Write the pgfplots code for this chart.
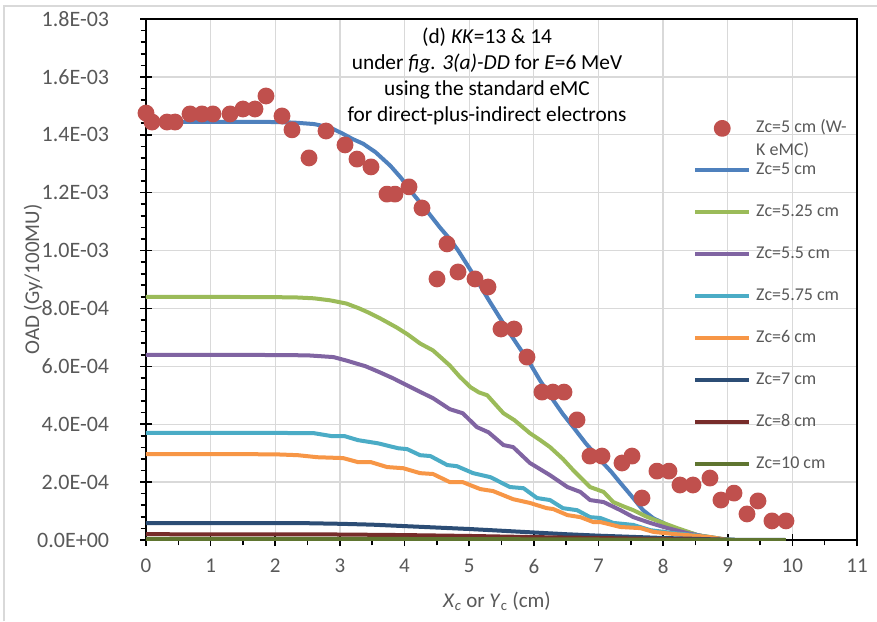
\documentclass[border=0pt]{standalone}
\usepackage{pgfplots}
\pgfplotsset{compat=1.18}
\usepackage{fontspec}
\setmainfont{Carlito}
\definecolor{gridgray}{HTML}{D9D9D9}
\definecolor{txtgray}{HTML}{595959}
\definecolor{cRed}{HTML}{C0504D}
\definecolor{cBlue}{HTML}{4F81BD}
\definecolor{cGreen}{HTML}{9BBB59}
\definecolor{cPurple}{HTML}{8064A2}
\definecolor{cCyan}{HTML}{4BACC6}
\definecolor{cOrange}{HTML}{F79646}
\definecolor{cNavy}{HTML}{2C4D75}
\definecolor{cMaroon}{HTML}{772C2A}
\definecolor{cOlive}{HTML}{5F7530}
\pgfplotsset{
  dotlegend/.style={legend image code/.code={\path[draw=none,fill=none] (0pt,0pt) -- (40.5pt,0pt); \fill[cRed] (20.25pt,0pt) circle[radius=4.8pt];}},
  linelegend/.style={legend image code/.code={\draw[##1] (0pt,0pt) -- (40.5pt,0pt);}},
}

\pgfplotstableread{
x y
0 1.475e-3
0.093 1.444e-3
0.325 1.444e-3
0.449 1.444e-3
0.681 1.472e-3
0.866 1.472e-3
1.036 1.472e-3
1.300 1.472e-3
1.500 1.489e-3
1.686 1.489e-3
1.856 1.534e-3
2.104 1.465e-3
2.259 1.417e-3
2.522 1.320e-3
2.785 1.413e-3
3.079 1.365e-3
3.264 1.316e-3
3.481 1.289e-3
3.728 1.195e-3
3.852 1.195e-3
4.069 1.220e-3
4.270 1.147e-3
4.502 0.902e-3
4.657 1.023e-3
4.827 0.926e-3
5.090 0.902e-3
5.291 0.874e-3
5.492 0.729e-3
5.693 0.729e-3
5.894 0.632e-3
6.126 0.511e-3
6.296 0.511e-3
6.467 0.511e-3
6.668 0.415e-3
6.869 0.290e-3
7.054 0.290e-3
7.364 0.266e-3
7.519 0.290e-3
7.673 0.145e-3
7.905 0.238e-3
8.091 0.238e-3
8.261 0.190e-3
8.462 0.190e-3
8.725 0.214e-3
8.895 0.138e-3
9.097 0.162e-3
9.298 0.090e-3
9.468 0.135e-3
9.684 0.066e-3
9.901 0.066e-3
}\wkdata

\pgfplotstableread{
x y
0 1.445e-3
0.5 1.445e-3
1 1.445e-3
1.5 1.445e-3
2 1.444e-3
2.3 1.442e-3
2.6 1.437e-3
2.85 1.425e-3
3.05 1.403e-3
3.2 1.385e-3
3.36 1.369e-3
3.55 1.340e-3
3.78 1.293e-3
3.95 1.250e-3
4.09 1.207e-3
4.3 1.150e-3
4.55 1.079e-3
4.7 1.040e-3
4.83 1.000e-3
5.0 0.940e-3
5.12 0.897e-3
5.3 0.830e-3
5.53 0.748e-3
5.7 0.690e-3
5.94 0.610e-3
6.1 0.550e-3
6.3 0.483e-3
6.45 0.435e-3
6.61 0.390e-3
6.8 0.335e-3
7.03 0.276e-3
7.2 0.235e-3
7.34 0.197e-3
7.5 0.155e-3
7.69 0.103e-3
7.85 0.075e-3
8.07 0.052e-3
8.2 0.040e-3
8.37 0.028e-3
8.55 0.016e-3
8.73 0.008e-3
8.9 0.003e-3
9.1 0
9.9 0
}\zfive

\pgfplotstableread{
x y
0 0.840e-3
1 0.840e-3
2 0.839e-3
2.33 0.838e-3
2.6 0.835e-3
2.85 0.828e-3
3.1 0.817e-3
3.3 0.800e-3
3.45 0.785e-3
3.62 0.766e-3
3.88 0.734e-3
4.05 0.710e-3
4.24 0.679e-3
4.44 0.655e-3
4.7 0.603e-3
4.85 0.565e-3
5.02 0.528e-3
5.15 0.510e-3
5.28 0.500e-3
5.4 0.470e-3
5.53 0.438e-3
5.7 0.414e-3
5.94 0.369e-3
6.1 0.345e-3
6.25 0.321e-3
6.45 0.280e-3
6.61 0.241e-3
6.75 0.210e-3
6.87 0.183e-3
7.08 0.166e-3
7.23 0.131e-3
7.4 0.115e-3
7.54 0.103e-3
7.75 0.080e-3
7.96 0.062e-3
8.22 0.041e-3
8.53 0.017e-3
8.73 0.010e-3
8.9 0.004e-3
9.1 0
9.9 0
}\zfivetwofive

\pgfplotstableread{
x y
0 0.640e-3
1 0.640e-3
2 0.639e-3
2.5 0.638e-3
2.9 0.632e-3
3.1 0.620e-3
3.4 0.600e-3
3.62 0.579e-3
3.82 0.559e-3
4.13 0.524e-3
4.44 0.490e-3
4.7 0.452e-3
4.9 0.438e-3
5.12 0.390e-3
5.3 0.372e-3
5.53 0.328e-3
5.68 0.321e-3
5.94 0.266e-3
6.25 0.224e-3
6.52 0.183e-3
6.72 0.166e-3
6.87 0.138e-3
7.08 0.131e-3
7.34 0.103e-3
7.54 0.079e-3
7.8 0.059e-3
8.07 0.041e-3
8.37 0.024e-3
8.68 0.010e-3
9.0 0
9.9 0
}\zfivefive

\pgfplotstableread{
x y
0 0.370e-3
1 0.370e-3
2 0.370e-3
2.6 0.369e-3
2.87 0.359e-3
3.07 0.359e-3
3.28 0.345e-3
3.59 0.334e-3
3.9 0.317e-3
4.04 0.314e-3
4.24 0.293e-3
4.4 0.290e-3
4.66 0.259e-3
4.81 0.255e-3
5.06 0.231e-3
5.33 0.217e-3
5.63 0.183e-3
5.84 0.179e-3
6.05 0.145e-3
6.25 0.138e-3
6.45 0.110e-3
6.67 0.103e-3
6.87 0.079e-3
7.03 0.076e-3
7.23 0.059e-3
7.54 0.052e-3
7.8 0.034e-3
8.15 0.024e-3
8.47 0.017e-3
8.73 0.010e-3
9.0 0
9.9 0
}\zfiveseven

\pgfplotstableread{
x y
0 0.297e-3
1 0.297e-3
2 0.296e-3
2.35 0.293e-3
2.65 0.286e-3
3.05 0.283e-3
3.28 0.269e-3
3.48 0.269e-3
3.73 0.252e-3
3.98 0.248e-3
4.24 0.231e-3
4.44 0.228e-3
4.7 0.200e-3
4.9 0.200e-3
5.17 0.176e-3
5.37 0.169e-3
5.68 0.141e-3
5.94 0.128e-3
6.2 0.110e-3
6.3 0.107e-3
6.52 0.086e-3
6.72 0.079e-3
6.92 0.062e-3
7.03 0.062e-3
7.34 0.045e-3
7.65 0.041e-3
7.85 0.028e-3
8.15 0.021e-3
8.53 0.014e-3
8.73 0.010e-3
9.0 0
9.9 0
}\zsix

\pgfplotstableread{
x y
0 0.058e-3
2.5 0.058e-3
3 0.056e-3
3.5 0.053e-3
4 0.048e-3
4.5 0.043e-3
5 0.038e-3
5.5 0.032e-3
6 0.026e-3
6.5 0.020e-3
7 0.015e-3
7.5 0.011e-3
8 0.007e-3
8.5 0.004e-3
9 0.001e-3
9.9 0
}\zseven

\pgfplotstableread{
x y
0 0.020e-3
3 0.019e-3
4 0.017e-3
5 0.014e-3
6 0.010e-3
7 0.007e-3
8 0.003e-3
9 0
9.9 0
}\zeight

\pgfplotstableread{
x y
0 0.004e-3
4 0.0035e-3
6 0.0025e-3
8 0.001e-3
9 0
9.9 0
}\zten

\begin{document}
\begin{tikzpicture}
\path[use as bounding box] (-109.5pt,-60.75pt) rectangle (548.25pt,405pt);
\fill[white] (-109.5pt,-60.75pt) rectangle (548.25pt,405pt);
\draw[gridgray, line width=1pt] (-106.5pt,-61pt) -- (-106.5pt,400.5pt) -- (549pt,400.5pt);
\begin{axis}[
  at={(0pt,0pt)}, anchor=south west,
  scale only axis, width=533.25pt, height=390.75pt,
  xmin=0, xmax=11, ymin=0, ymax=0.0018,
  xtick={0,1,2,3,4,5,6,7,8,9,10,11},
  minor x tick num=1,
  ytick={0,0.0002,0.0004,0.0006,0.0008,0.001,0.0012,0.0014,0.0016,0.0018},
  yticklabels={0.0E+00,2.0E-04,4.0E-04,6.0E-04,8.0E-04,1.0E-03,1.2E-03,1.4E-03,1.6E-03,1.8E-03},
  minor y tick num=4,
  scaled y ticks=false,
  xtick pos=bottom, ytick pos=left,
  /pgf/number format/assume math mode=true,
  grid=major,
  major grid style={gridgray, line width=1pt},
  axis line style={black, line width=1.4pt},
  tick style={black, line width=1.2pt},
  tick align=center,
  major tick length=9pt,
  minor tick length=4pt,
  minor x tick style={yshift=-2pt},
  minor y tick style={xshift=-2pt},
  ticklabel style={font=\fontsize{15.75}{19}\selectfont, text=txtgray},
  yticklabel style={anchor=east, inner sep=0pt, xshift=-23pt, font=\fontsize{16.5}{19}\selectfont},
  xticklabel style={anchor=north, inner sep=0pt, yshift=-9.5pt},
  every axis y label/.style={at={(axis description cs:-0.1589,0.5)}, rotate=90, anchor=center, font=\fontsize{15.75}{19}\selectfont, text=txtgray},
  every axis x label/.style={at={(axis description cs:0.4937,-0.1300)}, anchor=base, font=\fontsize{15.75}{19}\selectfont, text=txtgray},
  ylabel={OAD (Gy/100MU)},
  xlabel={\textit{X}\textsubscript{\textit{c}} or \textit{Y}\textsubscript{c} (cm)},
  legend style={at={(axis description cs:0.7693,0.8067)}, anchor=north west,
    draw=none, fill=none, inner sep=0pt, row sep=19pt, column sep=3.75pt,
    font=\fontsize{13.5}{17}\selectfont, text=txtgray,
    nodes={inner sep=0pt, text height=9.6pt, text depth=2.9pt}},
  legend cell align=left,
  every axis plot/.append style={line width=3pt, line join=round},
]
\addplot[only marks, mark=*, mark size=4.8pt, color=cRed, fill=cRed, dotlegend]
  table[x=x,y=y]{\wkdata};
\addlegendentry{\smash{\begin{tabular}[t]{@{}l@{}}Zc=5 cm (W-\\K eMC)\end{tabular}}}
\addplot[no marks, color=cBlue, linelegend] table[x=x,y=y]{\zfive};
\addlegendentry{Zc=5 cm}
\addplot[no marks, color=cGreen, linelegend] table[x=x,y=y]{\zfivetwofive};
\addlegendentry{Zc=5.25 cm}
\addplot[no marks, color=cPurple, linelegend] table[x=x,y=y]{\zfivefive};
\addlegendentry{Zc=5.5 cm}
\addplot[no marks, color=cCyan, linelegend] table[x=x,y=y]{\zfiveseven};
\addlegendentry{Zc=5.75 cm}
\addplot[no marks, color=cOrange, linelegend] table[x=x,y=y]{\zsix};
\addlegendentry{Zc=6 cm}
\addplot[no marks, color=cNavy, linelegend] table[x=x,y=y]{\zseven};
\addlegendentry{Zc=7 cm}
\addplot[no marks, color=cMaroon, linelegend] table[x=x,y=y]{\zeight};
\addlegendentry{Zc=8 cm}
\addplot[no marks, color=cOlive, linelegend] table[x=x,y=y]{\zten};
\addlegendentry{Zc=10 cm}
\node[anchor=north, align=center, inner sep=0pt, font=\fontsize{16}{19.5}\selectfont]
  at (axis description cs:0.4796,0.9827)
  {(d) \textit{KK}=13 \& 14\\under \textit{fig. 3(a)-DD} for \textit{E}=6 MeV\\using the standard eMC\\for direct-plus-indirect electrons};
\end{axis}
\end{tikzpicture}
\end{document}
